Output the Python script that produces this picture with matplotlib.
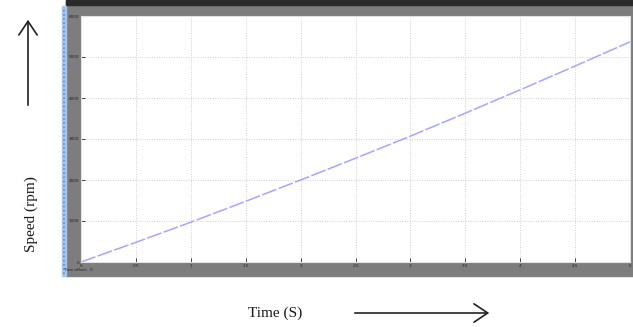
import numpy as np
import matplotlib
matplotlib.use("Agg")
from matplotlib import pyplot as plt
from matplotlib.patches import Rectangle, FancyArrowPatch

# speed
time_s = [0, 0.5, 1, 1.5, 2, 2.5, 3, 3.5, 4, 4.5, 5]
speed_rpm = [0, 480, 970, 1480, 2000, 2530, 3070, 3630, 4200, 4780, 5370]
x_ticks = [0, 0.5, 1, 1.5, 2, 2.5, 3, 3.5, 4, 4.5, 5]
x_labels = ["0", "0.5", "1", "1.5", "2", "2.5", "3", "3.5", "4", "4.5", "5"]
y_ticks = [0, 1000, 2000, 3000, 4000, 5000, 6000]

W, H = 633, 327
fig = plt.figure(figsize=(W / 100, H / 100), dpi=100)

def fx(px):
    return px / W

def fy(py):
    return 1 - py / H

# scope window frame
fig.patches.append(Rectangle((fx(66), fy(276)), fx(633 - 66), 276 / H,
                             transform=fig.transFigure, color="#7d7d7d", zorder=-2))
fig.patches.append(Rectangle((fx(66), fy(5)), fx(633 - 66), 5 / H,
                             transform=fig.transFigure, color="#2a2a2a", zorder=-2))
fig.patches.append(Rectangle((fx(62), fy(276)), fx(4), (276 - 6) / H,
                             transform=fig.transFigure, color="#a9c4e8", zorder=-2))
fig.lines.append(plt.Line2D([fx(64), fx(64)], [fy(274), fy(8)], transform=fig.transFigure,
                            color="#5b8fd4", lw=1.2, ls=(0, (1, 1.5)), zorder=-1))

ax = fig.add_axes([fx(81), fy(262), fx(630 - 81), (262 - 16) / H], zorder=2)
ax.set_facecolor("white")
ax.plot(time_s, speed_rpm, color="#a4a6ff", lw=1.1, ls=(0, (10, 1.5)))
ax.set_xlim(0, 5)
ax.set_ylim(0, 6000)
ax.set_xticks(x_ticks)
ax.set_xticklabels(x_labels)
ax.set_yticks(y_ticks)
ax.tick_params(labelsize=3, colors="#222222", length=3, width=0.6, direction="in", pad=1.5)
ax.grid(True, color="#cfcfcf", ls=(0, (1, 1.5)), lw=0.7)
for s in ax.spines.values():
    s.set_color("#e0e0e0")
    s.set_linewidth(0.8)

fig.text(fx(63), fy(270), "Time offset:  0", fontsize=3, color="#222222", va="center")

# axis labels drawn outside the scope
fig.text(fx(31), fy(214), "Speed (rpm)", rotation=90, family="Liberation Serif",
         fontsize=11, color="#1a1a1a", ha="center", va="center")
fig.text(fx(275), fy(313), "Time (S)", family="Liberation Serif",
         fontsize=11, color="#1a1a1a", ha="center", va="center")
arrow_kw = dict(arrowstyle="->,head_length=0.45,head_width=0.3", color="#222222",
                lw=1.2, mutation_scale=22)
fig.add_artist(FancyArrowPatch((fx(28), fy(108)), (fx(28), fy(17)),
                               transform=fig.transFigure, **arrow_kw))
fig.add_artist(FancyArrowPatch((fx(352), fy(313)), (fx(492), fy(313)),
                               transform=fig.transFigure, **arrow_kw))

fig.savefig("out.png", dpi=100)
